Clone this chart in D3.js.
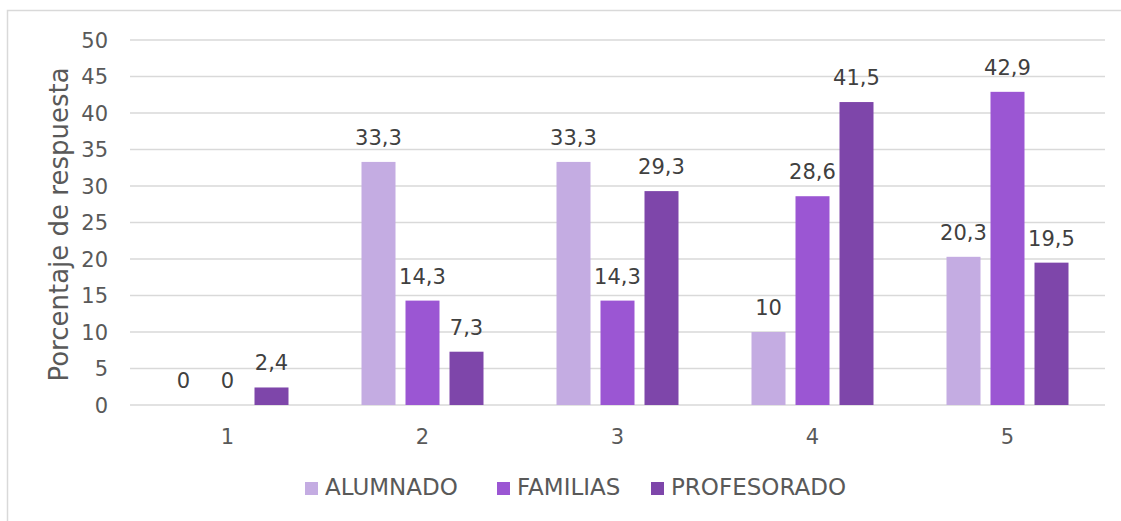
<!DOCTYPE html>
<html>
<head>
<meta charset="utf-8">
<script src="https://cdn.jsdelivr.net/npm/d3@7"></script>
<style>
  body { margin: 0; background: #fff; }
  svg { display: block; font-family: "Century Gothic", "DejaVu Sans", sans-serif; }
</style>
</head>
<body>
<svg width="1121" height="521"></svg>
<script>
const categories = ["1", "2", "3", "4", "5"];
const seriesNames = ["ALUMNADO", "FAMILIAS", "PROFESORADO"];
const alumnado = [0, 33.3, 33.3, 10, 20.3];
const familias = [0, 14.3, 14.3, 28.6, 42.9];
const profesorado = [2.4, 7.3, 29.3, 41.5, 19.5];
const yTicks = [0, 5, 10, 15, 20, 25, 30, 35, 40, 45, 50];
const colors = ["#c4ace2", "#9b56d3", "#7e46aa"];

const svg = d3.select("svg");
const margin = { left: 130, right: 16, top: 40, bottom: 116 };
const width = 1121, height = 521;

// outer chart frame (cut off at right and bottom like the reference)
svg.append("rect")
    .attr("x", 7.5).attr("y", 10.5)
    .attr("width", 1130).attr("height", 530)
    .attr("fill", "#fff").attr("stroke", "#d9d9d9").attr("stroke-width", 1.5);

const x0 = d3.scaleBand().domain(categories)
    .range([margin.left, width - margin.right]).padding(0);
const x1 = d3.scaleBand().domain(seriesNames)
    .range([0, x0.bandwidth()])
    .paddingInner(10 / 44).paddingOuter(0.8295);
const y = d3.scaleLinear().domain([0, 50]).range([height - margin.bottom, margin.top]);

// gridlines
svg.append("g")
    .selectAll("line")
    .data(yTicks)
    .join("line")
    .attr("x1", margin.left).attr("x2", width - margin.right)
    .attr("y1", d => y(d)).attr("y2", d => y(d))
    .attr("stroke", "#d9d9d9").attr("stroke-width", 1.3);

// y tick labels
svg.append("g")
    .selectAll("text")
    .data(yTicks)
    .join("text")
    .attr("x", 108).attr("y", d => y(d))
    .attr("dy", "0.36em")
    .attr("text-anchor", "end")
    .attr("font-size", 21).attr("fill", "#595959")
    .text(d => d);

// y axis title
svg.append("text")
    .attr("transform", `translate(68, ${(margin.top + height - margin.bottom) / 2 + 2}) rotate(-90)`)
    .attr("text-anchor", "middle")
    .attr("font-size", 26).attr("fill", "#595959")
    .text("Porcentaje de respuesta");

// category labels
svg.append("g")
    .selectAll("text")
    .data(categories)
    .join("text")
    .attr("x", d => x0(d) + x0.bandwidth() / 2)
    .attr("y", 444)
    .attr("text-anchor", "middle")
    .attr("font-size", 21).attr("fill", "#595959")
    .text(d => d);

const seriesData = [alumnado, familias, profesorado];
const rows = [];
categories.forEach((c, i) => {
    seriesNames.forEach((s, j) => rows.push({ cat: c, series: s, value: seriesData[j][i], color: colors[j] }));
});

// bars
svg.append("g")
    .selectAll("rect")
    .data(rows)
    .join("rect")
    .attr("x", d => x0(d.cat) + x1(d.series))
    .attr("y", d => y(d.value))
    .attr("width", x1.bandwidth())
    .attr("height", d => y(0) - y(d.value))
    .attr("fill", d => d.color);

// value labels
svg.append("g")
    .selectAll("text")
    .data(rows)
    .join("text")
    .attr("x", d => x0(d.cat) + x1(d.series) + x1.bandwidth() / 2)
    .attr("y", d => y(d.value) - 17)
    .attr("text-anchor", "middle")
    .attr("font-size", 21).attr("fill", "#404040")
    .text(d => String(d.value).replace(".", ","));

// legend
const legendX = [305, 497, 651];
const legend = svg.append("g")
    .selectAll("g")
    .data(seriesNames)
    .join("g")
    .attr("transform", (d, i) => `translate(${legendX[i]}, 482)`);
legend.append("rect")
    .attr("width", 13).attr("height", 13)
    .attr("fill", (d, i) => colors[i]);
legend.append("text")
    .attr("x", 20).attr("y", 13)
    .attr("font-size", 23).attr("fill", "#595959")
    .text(d => d);
</script>
</body>
</html>
